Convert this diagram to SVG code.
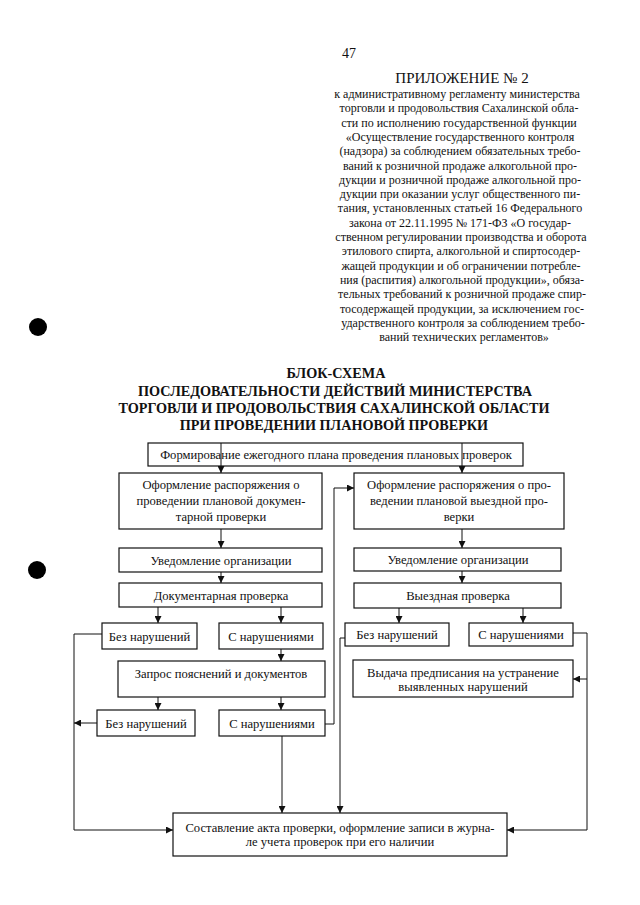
<svg xmlns="http://www.w3.org/2000/svg" width="640" height="905" viewBox="0 0 640 905">
<defs>
<style>
text{font-family:"Liberation Serif","Times New Roman",serif;fill:#111}
.hd{font-size:12px;text-anchor:middle}
.tt{font-size:14.2px;font-weight:bold;text-anchor:middle}
.bx{fill:#fff;stroke:#111;stroke-width:1.2}
.lb{font-size:12.6px;text-anchor:middle}
.cn{fill:none;stroke:#111;stroke-width:1}
</style>
<marker id="ah" viewBox="0 0 10 10" refX="10" refY="5" markerWidth="7" markerHeight="7" markerUnits="userSpaceOnUse" orient="auto">
<path d="M0,0 L10,5 L0,10 z" fill="#111"/>
</marker>
</defs>
<rect width="640" height="905" fill="#fff"/>
<circle cx="38" cy="327" r="9" fill="#000"/>
<circle cx="37" cy="570" r="9" fill="#000"/>
<g id="header">
<text x="342" y="58" style="font-size:14px">47</text>
<text x="462" y="83" style="font-size:15px;text-anchor:middle">ПРИЛОЖЕНИЕ № 2</text>
<text class="hd" x="457" y="98">к административному регламенту министерства</text>
<text class="hd" x="459" y="112.3">торговли и продовольствия Сахалинской обла-</text>
<text class="hd" x="459" y="126.6">сти по исполнению государственной функции</text>
<text class="hd" x="460" y="140.9">«Осуществление государственного контроля</text>
<text class="hd" x="460" y="155.2">(надзора) за соблюдением обязательных требо-</text>
<text class="hd" x="460" y="169.5">ваний к розничной продаже алкогольной про-</text>
<text class="hd" x="460" y="183.8">дукции и розничной продаже алкогольной про-</text>
<text class="hd" x="460" y="198.1">дукции при оказании услуг общественного пи-</text>
<text class="hd" x="460" y="212.4">тания, установленных статьей 16 Федерального</text>
<text class="hd" x="460" y="226.7">закона от 22.11.1995 № 171-ФЗ «О государ-</text>
<text class="hd" x="461" y="241">ственном регулировании производства и оборота</text>
<text class="hd" x="461" y="255.3">этилового спирта, алкогольной и спиртосодер-</text>
<text class="hd" x="461" y="269.6">жащей продукции и об ограничении потребле-</text>
<text class="hd" x="462" y="283.9">ния (распития) алкогольной продукции»,  обяза-</text>
<text class="hd" x="462" y="298.2">тельных требований к розничной продаже спир-</text>
<text class="hd" x="462" y="312.5">тосодержащей продукции, за исключением гос-</text>
<text class="hd" x="463" y="326.8">ударственного контроля за соблюдением требо-</text>
<text class="hd" x="464" y="341.1">ваний технических регламентов»</text>
</g>
<g id="title">
<text class="tt" x="336" y="378">БЛОК-СХЕМА</text>
<text class="tt" x="335" y="395.5">ПОСЛЕДОВАТЕЛЬНОСТИ ДЕЙСТВИЙ МИНИСТЕРСТВА</text>
<text class="tt" x="334" y="413">ТОРГОВЛИ И ПРОДОВОЛЬСТВИЯ САХАЛИНСКОЙ ОБЛАСТИ</text>
<text class="tt" x="334" y="430">ПРИ ПРОВЕДЕНИИ ПЛАНОВОЙ ПРОВЕРКИ</text>
</g>
<g id="n-plan">
<rect class="bx" x="148" y="443" width="375" height="23"/>
<text class="lb" x="336" y="459">Формирование ежегодного плана проведения плановых проверок</text>
</g>
<g id="n-order-doc">
<rect class="bx" x="119" y="473" width="203" height="56"/>
<text class="lb" x="221" y="489">Оформление распоряжения о</text>
<text class="lb" x="221" y="505">проведении плановой докумен-</text>
<text class="lb" x="221" y="521">тарной проверки</text>
</g>
<g id="n-order-field">
<rect class="bx" x="354" y="473" width="210" height="56"/>
<text class="lb" x="459" y="489">Оформление распоряжения о про-</text>
<text class="lb" x="459" y="505">ведении плановой выездной про-</text>
<text class="lb" x="459" y="521">верки</text>
</g>
<g id="n-notify-doc">
<rect class="bx" x="119" y="548" width="203" height="24"/>
<text class="lb" x="221" y="564.5">Уведомление организации</text>
</g>
<g id="n-notify-field">
<rect class="bx" x="354" y="548" width="207" height="23"/>
<text class="lb" x="458" y="564">Уведомление организации</text>
</g>
<g id="n-doc-check">
<rect class="bx" x="119" y="583" width="203" height="24"/>
<text class="lb" x="221" y="599.5">Документарная проверка</text>
</g>
<g id="n-field-check">
<rect class="bx" x="354" y="583" width="207" height="25"/>
<text class="lb" x="458" y="600">Выездная проверка</text>
</g>
<g id="n-doc-ok1">
<rect class="bx" x="102" y="623" width="95" height="26"/>
<text class="lb" x="149.5" y="640.5">Без нарушений</text>
</g>
<g id="n-doc-viol1">
<rect class="bx" x="219" y="623" width="104" height="26"/>
<text class="lb" x="271" y="640.5">С нарушениями</text>
</g>
<g id="n-field-ok">
<rect class="bx" x="345" y="623" width="104" height="23"/>
<text class="lb" x="397" y="639">Без нарушений</text>
</g>
<g id="n-field-viol">
<rect class="bx" x="469" y="623" width="104" height="23"/>
<text class="lb" x="521" y="639">С нарушениями</text>
</g>
<g id="n-request">
<rect class="bx" x="118" y="661" width="207" height="36"/>
<text class="lb" x="221" y="677.5">Запрос пояснений и документов</text>
</g>
<g id="n-prescription">
<rect class="bx" x="353" y="660" width="220" height="37"/>
<text class="lb" x="463" y="677">Выдача предписания на устранение</text>
<text class="lb" x="463" y="691">выявленных нарушений</text>
</g>
<g id="n-doc-ok2">
<rect class="bx" x="97" y="710" width="98" height="26"/>
<text class="lb" x="146" y="727.5">Без нарушений</text>
</g>
<g id="n-doc-viol2">
<rect class="bx" x="219" y="710" width="106" height="26"/>
<text class="lb" x="272" y="727.5">С нарушениями</text>
</g>
<g id="n-act">
<rect class="bx" x="173" y="813" width="334" height="43"/>
<text class="lb" x="340" y="832">Составление акта проверки, оформление записи в журна-</text>
<text class="lb" x="340" y="846">ле учета проверок при его наличии</text>
</g>
<g id="connectors">
<path class="cn" d="M221,443 V473" marker-end="url(#ah)"/>
<path class="cn" d="M462,443 V473" marker-end="url(#ah)"/>
<path class="cn" d="M221,529 V548" marker-end="url(#ah)"/>
<path class="cn" d="M221,572 V583" marker-end="url(#ah)"/>
<path class="cn" d="M462,529 V548" marker-end="url(#ah)"/>
<path class="cn" d="M462,571 V583" marker-end="url(#ah)"/>
<path class="cn" d="M158,607 V623" marker-end="url(#ah)"/>
<path class="cn" d="M281,607 V623" marker-end="url(#ah)"/>
<path class="cn" d="M399,608 V623" marker-end="url(#ah)"/>
<path class="cn" d="M523,608 V623" marker-end="url(#ah)"/>
<path class="cn" d="M281,649 V661" marker-end="url(#ah)"/>
<path class="cn" d="M158,697 V710" marker-end="url(#ah)"/>
<path class="cn" d="M281,697 V710" marker-end="url(#ah)"/>
<path class="cn" d="M102,634 H74 V830 H173" marker-end="url(#ah)"/>
<path class="cn" d="M97,723 H74" marker-end="url(#ah)"/>
<path class="cn" d="M325,724 H334 V488 H354" marker-end="url(#ah)"/>
<path class="cn" d="M282,736 V813" marker-end="url(#ah)"/>
<path class="cn" d="M345,638 H340 V813" marker-end="url(#ah)"/>
<path class="cn" d="M573,633 H587 V830 H507" marker-end="url(#ah)"/>
<path class="cn" d="M587,679 H573" marker-end="url(#ah)"/>
</g>
</svg>
